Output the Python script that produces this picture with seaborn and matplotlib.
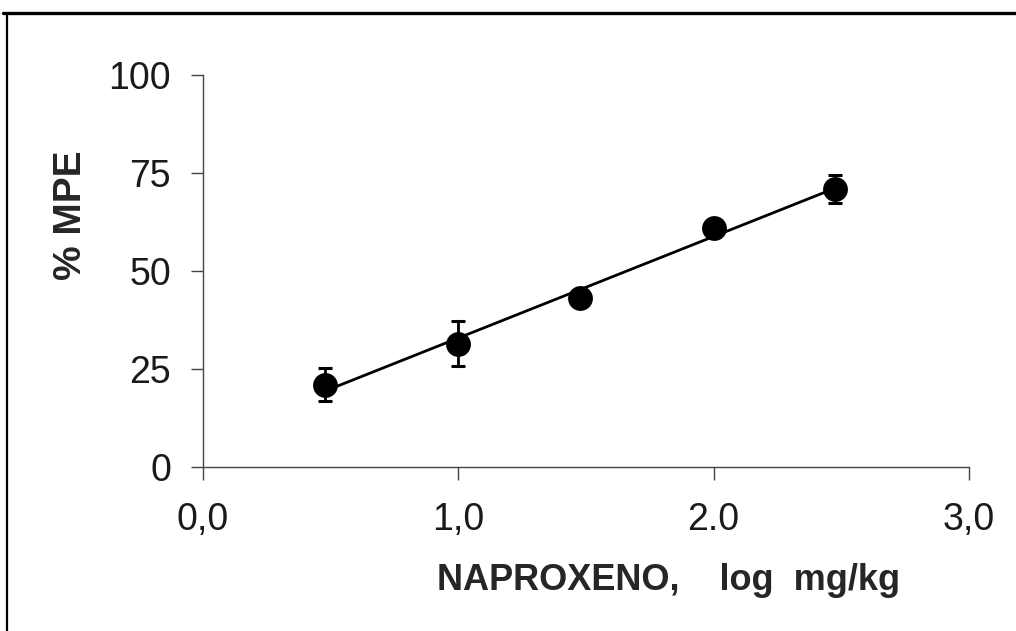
import numpy as np
import pandas as pd
import matplotlib
matplotlib.use("Agg")
import matplotlib.pyplot as plt
from matplotlib.lines import Line2D
import seaborn as sns

# log dose (3, 10, 30, 100, 300 mg/kg) vs % MPE, mean +/- error
log_dose = [0.477, 1.0, 1.477, 2.0, 2.477]
mpe_mean = [21.0, 31.5, 43.0, 61.0, 71.0]
mpe_err = [4.2, 5.8, 2.0, 1.5, 3.6]

x_ticks = [0.0, 1.0, 2.0, 3.0]
x_ticklabels = ["0,0", "1,0", "2.0", "3,0"]
y_ticks = [0, 25, 50, 75, 100]

df = pd.DataFrame({"log_dose": log_dose, "mpe": mpe_mean, "err": mpe_err})

sns.set_style("ticks")
plt.rcParams["font.family"] = ["Liberation Sans", "DejaVu Sans"]

fig = plt.figure(figsize=(10.16, 6.31), dpi=100)
ax = fig.add_axes([0.1998, 0.2599, 0.7539, 0.6212])

# regression line over the data range
sns.regplot(data=df, x="log_dose", y="mpe", ax=ax, scatter=False, ci=None,
            truncate=True, color="black", line_kws={"linewidth": 2.0})

ax.errorbar(df["log_dose"], df["mpe"], yerr=df["err"], fmt="none",
            ecolor="black", elinewidth=2.0, capsize=5, capthick=2.2, zorder=3)
sns.scatterplot(data=df, x="log_dose", y="mpe", ax=ax, color="black",
                s=320, edgecolor="black", linewidth=0, zorder=4)

ax.set_xlim(0, 3)
ax.set_ylim(0, 100)
ax.set_xticks(x_ticks)
ax.set_xticklabels(x_ticklabels)
ax.set_yticks(y_ticks)
ax.tick_params(axis="both", labelsize=27, colors="#444444", labelcolor="#1a1a1a",
               width=1.0, length=9)
ax.tick_params(axis="x", pad=16)
ax.tick_params(axis="y", pad=14)

for side in ["top", "right"]:
    ax.spines[side].set_visible(False)
for side in ["left", "bottom"]:
    ax.spines[side].set_color("#444444")
    ax.spines[side].set_linewidth(1.0)

ax.set_xlabel("NAPROXENO,    log  mg/kg", fontsize=26, fontweight="bold",
              va="center", ha="center")
ax.xaxis.set_label_coords(0.608, -0.29)
ax.set_ylabel("% MPE", fontsize=28, fontweight="bold", va="center", ha="center")
ax.yaxis.set_label_coords(-0.172, 0.643)

# frame lines of the original figure
fig.add_artist(Line2D([0.003, 1.0], [0.979, 0.979], transform=fig.transFigure,
                      color="black", linewidth=2.4))
fig.add_artist(Line2D([0.0069, 0.0069], [0.0, 0.979], transform=fig.transFigure,
                      color="black", linewidth=1.6))

fig.savefig("out.png", dpi=100)
